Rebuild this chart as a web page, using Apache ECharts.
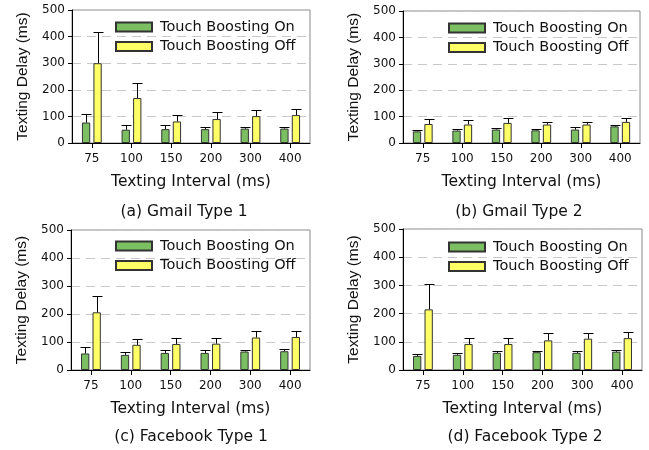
<!DOCTYPE html>
<html>
<head>
<meta charset="utf-8">
<script src="https://cdn.jsdelivr.net/npm/echarts@6/dist/echarts.min.js"></script>
<style>
  html, body { margin: 0; padding: 0; background: #fff; }
  #chart { width: 649px; height: 450px; }
</style>
</head>
<body>
<div id="chart"></div>
<script>
// Datos
const categories = ['75', '100', '150', '200', '300', '400'];
const yTicks = [0, 100, 200, 300, 400, 500];
const captions = ['(a) Gmail Type 1', '(b) Gmail Type 2', '(c) Facebook Type 1', '(d) Facebook Type 2'];

// (a) Gmail Type 1
const gmail1On = [77, 50, 52, 52, 54, 54];
const gmail1OnErr = [32, 17, 15, 7, 6, 6];
const gmail1Off = [300, 169, 81, 90, 101, 105];
const gmail1OffErr = [116, 56, 26, 27, 23, 22];

// (b) Gmail Type 2
const gmail2On = [44, 47, 51, 48, 51, 63];
const gmail2OnErr = [7, 7, 6, 5, 8, 7];
const gmail2Off = [72, 70, 76, 70, 70, 80];
const gmail2OffErr = [19, 16, 19, 11, 11, 15];

// (c) Facebook Type 1
const fb1On = [59, 54, 61, 61, 66, 67];
const fb1OnErr = [23, 10, 9, 9, 6, 8];
const fb1Off = [206, 90, 93, 94, 116, 118];
const fb1OffErr = [58, 21, 21, 20, 23, 23];

// (d) Facebook Type 2
const fb2On = [50, 54, 61, 63, 61, 65];
const fb2OnErr = [6, 6, 6, 6, 6, 6];
const fb2Off = [215, 92, 92, 105, 111, 113];
const fb2OffErr = [90, 21, 21, 26, 20, 23];

const panels = [
    { on: gmail1On, onErr: gmail1OnErr, off: gmail1Off, offErr: gmail1OffErr },
    { on: gmail2On, onErr: gmail2OnErr, off: gmail2Off, offErr: gmail2OffErr },
    { on: fb1On, onErr: fb1OnErr, off: fb1Off, offErr: fb1OffErr },
    { on: fb2On, onErr: fb2OnErr, off: fb2Off, offErr: fb2OffErr }
];

// Layout
const grids = [
    { left: 72, top: 10, width: 238, height: 133 },
    { left: 403, top: 11, width: 237, height: 132 },
    { left: 71, top: 230, width: 239, height: 140 },
    { left: 403, top: 229, width: 239, height: 141 }
];
const captionPos = [[184, 204], [519, 204], [191, 429], [525, 429]];
const legendPos = [[115, 18], [448, 19], [115, 237], [448, 238]];

const NAME_ON = 'Touch Boosting On';
const NAME_OFF = 'Touch Boosting Off';
const BAR_W = 8.3;
const BAR_GAP = 3.2;
const HFONT = 'DejaVu Sans';
const TXT = '#111';

function errorSeries(idx, means, errs, offset) {
    return {
        type: 'custom',
        xAxisIndex: idx,
        yAxisIndex: idx,
        z: 5,
        silent: true,
        data: means.map((m, i) => [i, m, m + errs[i]]),
        renderItem: function(params, api) {
            const base = api.coord([api.value(0), api.value(1)]);
            const top = api.coord([api.value(0), api.value(2)]);
            const cx = Math.round(base[0] + offset) + 0.5;
            const ty = Math.round(top[1]) + 0.5;
            return {
                type: 'group',
                children: [
                    { type: 'line', shape: { x1: cx, y1: base[1], x2: cx, y2: ty }, style: { stroke: '#000', lineWidth: 1 } },
                    { type: 'line', shape: { x1: cx - 5, y1: ty, x2: cx + 5, y2: ty }, style: { stroke: '#000', lineWidth: 1 } }
                ]
            };
        }
    };
}

const chart = echarts.init(document.getElementById('chart'));

const option = {
    animation: false,
    backgroundColor: '#fff',
    title: captions.map((c, i) => ({
        text: c,
        left: captionPos[i][0],
        top: captionPos[i][1],
        textAlign: 'center',
        padding: 0,
        textStyle: { fontFamily: HFONT, fontSize: 15.5, fontWeight: 'normal', color: TXT }
    })),
    legend: legendPos.map(p => ({
        orient: 'vertical',
        left: p[0],
        top: p[1],
        padding: 0,
        icon: 'rect',
        itemWidth: 36,
        itemHeight: 9,
        itemGap: 1.5,
        data: [NAME_ON, NAME_OFF],
        textStyle: { fontFamily: HFONT, fontSize: 14.5, color: TXT, lineHeight: 18, padding: [0, 0, 0, 3] }
    })),
    grid: grids.map(g => Object.assign({ show: true, borderColor: '#8a8a8a', borderWidth: 1, containLabel: false }, g)),
    xAxis: grids.map((g, i) => ({
        type: 'category',
        gridIndex: i,
        data: categories,
        axisLine: { show: true, lineStyle: { color: '#000', width: 1 } },
        axisTick: { show: true, alignWithLabel: true, length: 5, lineStyle: { color: '#000' } },
        axisLabel: { fontFamily: HFONT, fontSize: 12, color: TXT, margin: 10 },
        name: 'Texting Interval (ms)',
        nameLocation: 'middle',
        nameGap: 31,
        nameTextStyle: { fontFamily: HFONT, fontSize: 15.5, color: TXT }
    })),
    yAxis: grids.map((g, i) => ({
        type: 'value',
        gridIndex: i,
        min: yTicks[0],
        max: yTicks[yTicks.length - 1],
        interval: 100,
        axisLine: { show: true, lineStyle: { color: '#000', width: 1 } },
        axisTick: { show: true, length: 4, lineStyle: { color: '#000' } },
        axisLabel: { fontFamily: HFONT, fontSize: 12, color: TXT, margin: 7 },
        splitLine: { show: true, lineStyle: { color: '#c8c8c8', type: [9, 6], width: 1 } },
        name: 'Texting Delay (ms)',
        nameLocation: 'middle',
        nameGap: 41,
        nameTextStyle: { fontFamily: 'Liberation Sans', fontSize: 15.5, color: TXT }
    })),
    series: []
};

const offset = (BAR_W + BAR_GAP) / 2;
panels.forEach((p, i) => {
    option.series.push({
        name: NAME_ON,
        type: 'bar',
        xAxisIndex: i,
        yAxisIndex: i,
        data: p.on,
        barWidth: BAR_W,
        barGap: (BAR_GAP / BAR_W * 100) + '%',
        itemStyle: { color: '#7cbf63', borderColor: '#333', borderWidth: 1 }
    });
    option.series.push({
        name: NAME_OFF,
        type: 'bar',
        xAxisIndex: i,
        yAxisIndex: i,
        data: p.off,
        barWidth: BAR_W,
        barGap: (BAR_GAP / BAR_W * 100) + '%',
        itemStyle: { color: '#ffff66', borderColor: '#333', borderWidth: 1 }
    });
    option.series.push(errorSeries(i, p.on, p.onErr, -offset));
    option.series.push(errorSeries(i, p.off, p.offErr, offset));
});

chart.setOption(option);
</script>
</body>
</html>
